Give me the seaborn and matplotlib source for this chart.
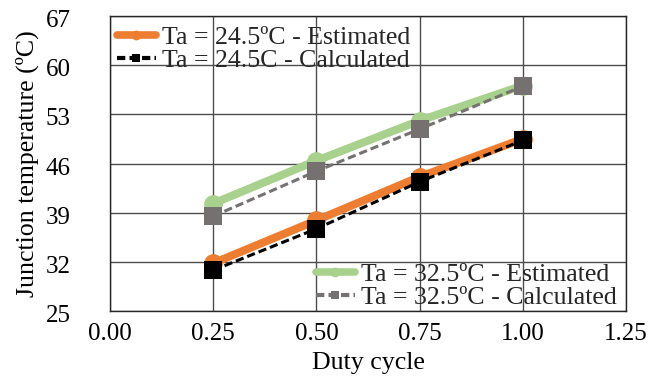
import matplotlib
matplotlib.use("Agg")
import matplotlib.pyplot as plt
import matplotlib.transforms as mtransforms
from matplotlib.lines import Line2D
import seaborn as sns
import pandas as pd

# Junction temperature vs duty cycle for two ambient temperatures
duty = [0.25, 0.50, 0.75, 1.00]
est_245 = [31.8, 37.9, 44.1, 49.5]
calc_245 = [30.8, 36.7, 43.4, 49.3]
est_325 = [40.3, 46.4, 52.1, 57.1]
calc_325 = [38.5, 44.9, 50.9, 57.0]

labels = ["Ta = 24.5ºC - Estimated", "Ta = 24.5C - Calculated",
          "Ta = 32.5ºC - Estimated", "Ta = 32.5ºC - Calculated"]
x_ticks = [0.00, 0.25, 0.50, 0.75, 1.00, 1.25]
y_ticks = [25, 32, 39, 46, 53, 60, 67]

sns.set_theme(style="white")
plt.rcParams["font.family"] = ["Liberation Serif", "DejaVu Serif"]

fig = plt.figure(figsize=(6.68, 3.76), dpi=100)
ax = fig.add_axes([110 / 668, 65 / 376, 516 / 668, 295 / 376])

styles = [
    dict(color="#ED7D31", lw=5.8, marker="o", ms=13.5, dashes=None, z=3),
    dict(color="#000000", lw=2.2, marker="s", ms=13.5, dashes=(2.7, 1.3), z=4),
    dict(color="#A9D18E", lw=5.8, marker="o", ms=13.5, dashes=None, z=3),
    dict(color="#767171", lw=2.2, marker="s", ms=13.5, dashes=(2.7, 1.3), z=4),
]
series = [est_245, calc_245, est_325, calc_325]

for vals, lab, st in zip(series, labels, styles):
    df = pd.DataFrame({"duty": duty, "temp": vals})
    sns.lineplot(data=df, x="duty", y="temp", ax=ax, color=st["color"],
                 lw=st["lw"], marker=st["marker"], markersize=st["ms"],
                 markeredgewidth=0, zorder=st["z"], legend=False)
    line = ax.get_lines()[-1]
    line.set_solid_capstyle("round")
    if st["dashes"] is not None:
        line.set_dashes(st["dashes"])

ax.set_xlim(0, 1.25)
ax.set_ylim(25, 67)
ax.set_xticks(x_ticks)
ax.set_xticklabels([f"{t:.2f}" for t in x_ticks])
ax.set_yticks(y_ticks)
ax.tick_params(axis="both", labelsize=18, length=0, colors="#000000")
ax.tick_params(axis="y", pad=28.5)
ax.tick_params(axis="x", pad=9)
shift = mtransforms.ScaledTranslation(0, -2.5 / 100, fig.dpi_scale_trans)
for lbl in ax.get_yticklabels():
    lbl.set_transform(lbl.get_transform() + shift)

ax.grid(True, color="#4d4d4d", lw=1.0)
ax.set_axisbelow(True)
for sp in ax.spines.values():
    sp.set_color("#262626")
    sp.set_linewidth(1.0)

ax.set_xlabel("Duty cycle", fontsize=18.6, color="#000000")
ax.set_ylabel("Junction temperature (ºC)", fontsize=18.6, color="#000000")
ax.xaxis.set_label_coords(0.5, -(352 - 311) / 295)
ax.yaxis.set_label_coords((39 - 110) / 516, 0.5)


def proxy(st):
    if st["dashes"] is None:
        h = Line2D([], [], color=st["color"], lw=5.5, marker=st["marker"],
                   markersize=7, markeredgewidth=0, solid_capstyle="round")
    else:
        h = Line2D([], [], color=st["color"], lw=3.0, marker=st["marker"],
                   markersize=5.5, markeredgewidth=0)
        h.set_dashes((2.0, 1.0))
    return h


leg_kw = dict(frameon=False, fontsize=18.6, handlelength=1.5,
              handletextpad=0.25, labelspacing=0.0, borderaxespad=0,
              borderpad=0)
leg1 = ax.legend([proxy(styles[0]), proxy(styles[1])], labels[:2],
                 loc="upper left", bbox_to_anchor=(7 / 516, 1 - 10 / 295),
                 **leg_kw)
ax.add_artist(leg1)
ax.legend([proxy(styles[2]), proxy(styles[3])], labels[2:],
          loc="lower right", bbox_to_anchor=((617 - 110) / 516, 1.5 / 295),
          **leg_kw)

fig.savefig("out.png", dpi=100)
